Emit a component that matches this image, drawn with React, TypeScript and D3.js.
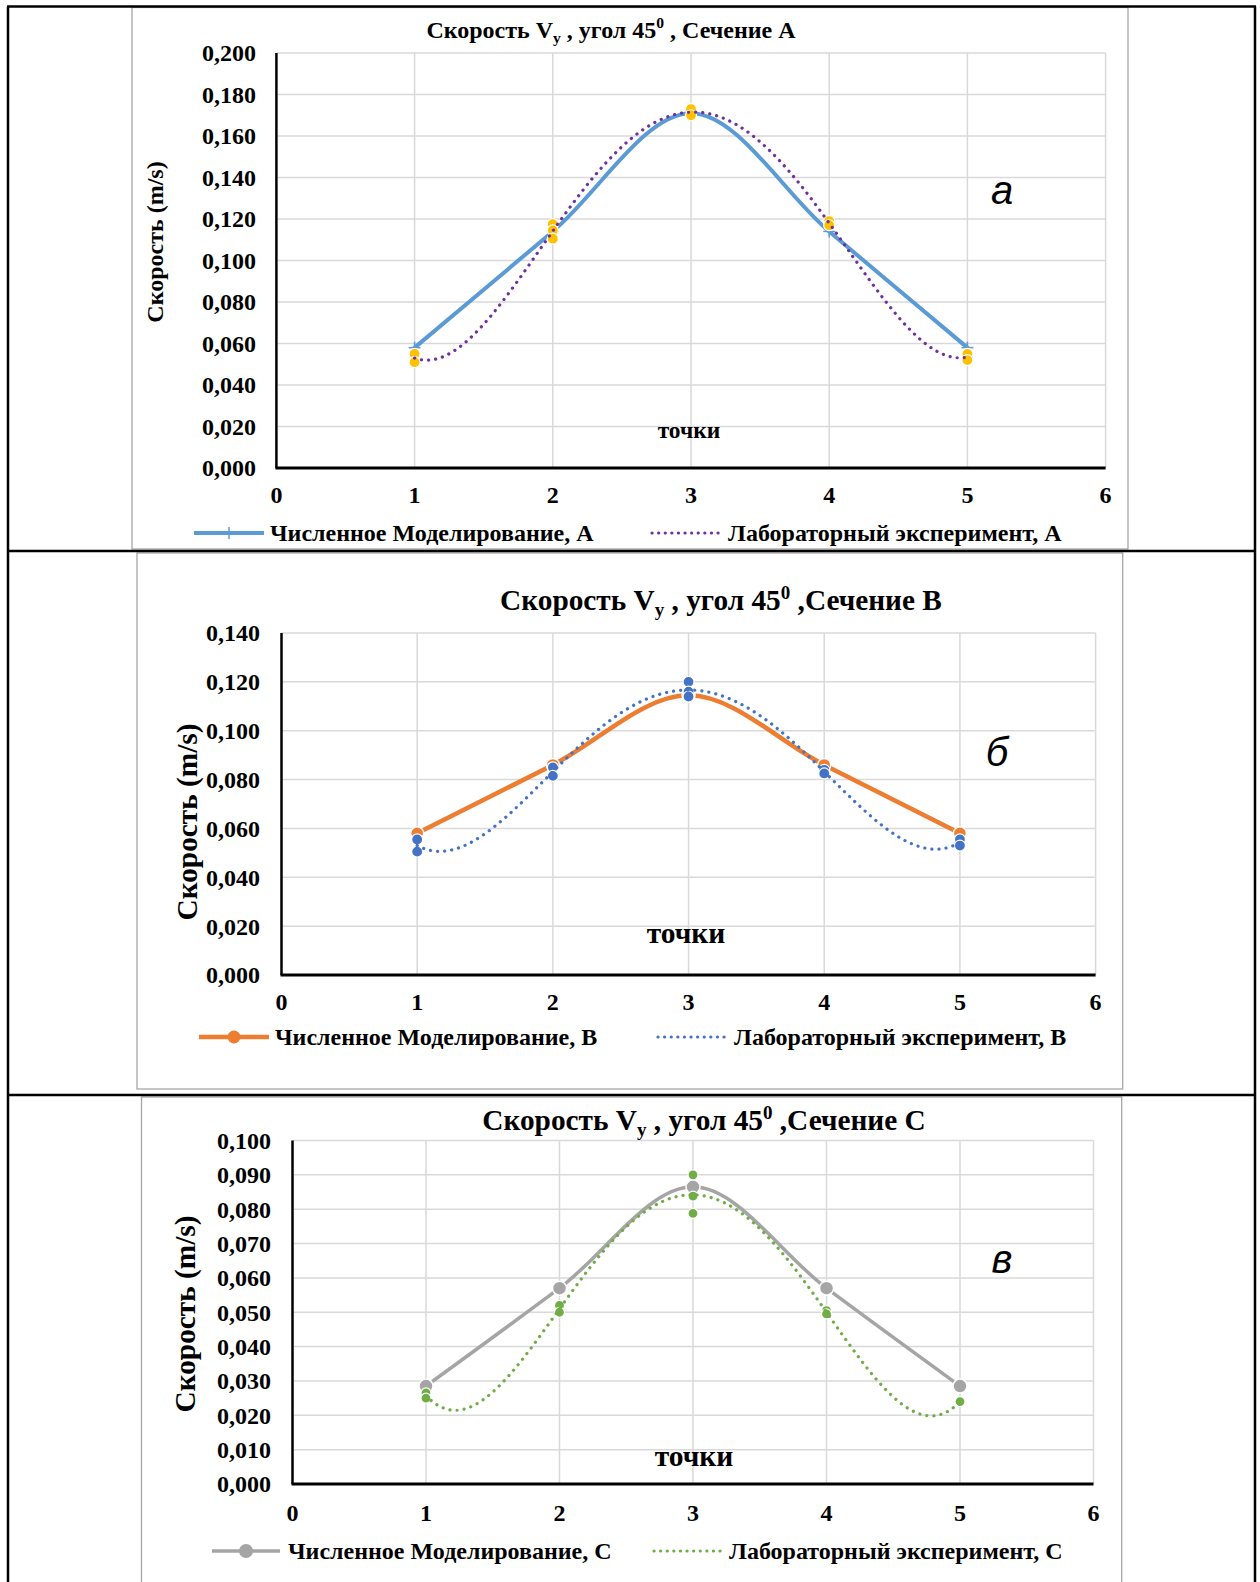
import React from "react";
import * as d3 from "d3";

// ---------- DATA ----------
const xTicks = [0, 1, 2, 3, 4, 5, 6];
const pointX = [1, 2, 3, 4, 5];

const yTicksA = [0, 0.02, 0.04, 0.06, 0.08, 0.1, 0.12, 0.14, 0.16, 0.18, 0.2];
const yTicksB = [0, 0.02, 0.04, 0.06, 0.08, 0.1, 0.12, 0.14];
const yTicksC = [0, 0.01, 0.02, 0.03, 0.04, 0.05, 0.06, 0.07, 0.08, 0.09, 0.1];

// Section A
const numA = [0.058, 0.114, 0.171, 0.114, 0.058];
const expAx = [1, 1, 2, 2, 2, 3, 3, 4, 4, 5, 5];
const expAy = [0.055, 0.051, 0.1175, 0.1145, 0.1105, 0.173, 0.170, 0.119, 0.117, 0.055, 0.052];

// Section B
const numB = [0.058, 0.086, 0.1145, 0.086, 0.058];
const expBx = [1, 1, 2, 2, 3, 3, 3, 4, 4, 5, 5];
const expBy = [0.0555, 0.0505, 0.085, 0.0815, 0.12, 0.116, 0.114, 0.084, 0.0825, 0.0555, 0.053];

// Section C
const numC = [0.0285, 0.057, 0.0865, 0.057, 0.0285];
const expCx = [1, 1, 2, 2, 3, 3, 3, 4, 4, 5];
const expCy = [0.0265, 0.025, 0.052, 0.050, 0.09, 0.0838, 0.0788, 0.0505, 0.0495, 0.024];

const titleBase = "Скорость V";
const yTitle = "Скорость (m/s)";
const xTitle = "точки";
const legendNum = ["Численное Моделирование, А", "Численное Моделирование, В", "Численное Моделирование, С"];
const legendExp = ["Лабораторный эксперимент, А", "Лабораторный эксперимент, В", "Лабораторный эксперимент, С"];
const sectionSuffix = [" , Сечение А", " ,Сечение В", " ,Сечение С"];
const letters = ["а", "б", "в"];

// ---------- HELPERS ----------
const fmt = (v: number) => d3.format(".3f")(v).replace(".", ",");

function polyFit(xs: number[], ys: number[], deg: number): number[] {
  const n = deg + 1;
  const M: number[][] = [];
  for (let i = 0; i < n; i++) {
    const row: number[] = [];
    for (let j = 0; j < n; j++) row.push(d3.sum(xs, (x) => Math.pow(x, i + j)));
    row.push(d3.sum(xs.map((x, k) => Math.pow(x, i) * ys[k])));
    M.push(row);
  }
  for (let c = 0; c < n; c++) {
    let p = c;
    for (let r = c + 1; r < n; r++) if (Math.abs(M[r][c]) > Math.abs(M[p][c])) p = r;
    [M[c], M[p]] = [M[p], M[c]];
    for (let r = 0; r < n; r++) {
      if (r === c) continue;
      const f = M[r][c] / M[c][c];
      for (let k = c; k <= n; k++) M[r][k] -= f * M[c][k];
    }
  }
  return M.map((row, i) => row[n] / row[i]);
}
const polyEval = (coef: number[], x: number) => coef.reduce((s, c, i) => s + c * Math.pow(x, i), 0);

const SERIF = "'Liberation Serif', 'Times New Roman', serif";

type Layout = {
  frame: [number, number, number, number];
  x0: number; x6: number; yTop: number; yBot: number;
  yMax: number; yTicks: number[];
  tickFs: number; tickRight: number; xLabelBase: number;
  titleCx: number; titleBy: number; titleFs: number;
  yTitleX: number; yTitleY: number; yTitleFs: number;
  ptsX: number; ptsY: number; ptsFs: number;
  letterX: number; letterY: number;
  legY: number; leg1: [number, number, number]; leg2: [number, number, number]; legFs: number;
  numColor: string; numWidth: number; numMarker: "plus" | "circle"; numR: number;
  expColor: string; trendColor: string; expR: number;
  num: number[]; ex: number[]; ey: number[]; idx: number;
};

function Chart({ L }: { L: Layout }) {
  const x = d3.scaleLinear().domain([0, 6]).range([L.x0, L.x6]);
  const y = d3.scaleLinear().domain([0, L.yMax]).range([L.yBot, L.yTop]);
  const numLine = d3.line<number>().x((_, i) => x(pointX[i])).y((d) => y(d)).curve(d3.curveCardinal.tension(0));
  const coef = polyFit(L.ex, L.ey, 4);
  const xsFit = d3.range(1, 5.0001, 0.02);
  const fitLine = d3.line<number>().x((d) => x(d)).y((d) => y(polyEval(coef, d)));
  const dots = "0.1 7";
  const fs = L.titleFs;
  const numPath = (
    <path d={numLine(L.num) || ""} fill="none" stroke={L.numColor} strokeWidth={L.numWidth} strokeLinecap="round" />
  );
  const numMarks = L.num.map((v, i) =>
    L.numMarker === "plus" ? (
      <g key={"nm" + i} stroke={L.numColor} strokeWidth={1.5}>
        <line x1={x(pointX[i]) - 6} x2={x(pointX[i]) + 6} y1={y(v)} y2={y(v)} />
        <line x1={x(pointX[i])} x2={x(pointX[i])} y1={y(v) - 6} y2={y(v) + 6} />
      </g>
    ) : (
      <circle key={"nm" + i} cx={x(pointX[i])} cy={y(v)} r={L.numR} fill={L.numColor} stroke="#fff" strokeWidth={1.5} />
    )
  );
  const expMarks = L.ex.map((xv, i) => (
    <circle key={"em" + i} cx={x(xv)} cy={y(L.ey[i])} r={L.expR} fill={L.expColor} stroke="#fff" strokeWidth={1.2} />
  ));
  const fitPath = (
    <path d={fitLine(xsFit) || ""} fill="none" stroke={L.trendColor} strokeWidth={3.2} strokeDasharray={dots} strokeLinecap="round" />
  );
  return (
    <g>
      <rect x={L.frame[0]} y={L.frame[1]} width={L.frame[2]} height={L.frame[3]} fill="#fff" stroke="#a6a6a6" strokeWidth={1.3} />
      {/* grid */}
      {L.yTicks.filter((t) => t > 0).map((t) => (
        <line key={"gy" + t} x1={x(0)} x2={x(6)} y1={y(t)} y2={y(t)} stroke="#d9d9d9" strokeWidth={1.5} />
      ))}
      {xTicks.filter((t) => t > 0).map((t) => (
        <line key={"gx" + t} x1={x(t)} x2={x(t)} y1={y(0)} y2={y(L.yMax)} stroke="#d9d9d9" strokeWidth={1.5} />
      ))}
      {/* axes */}
      <line x1={x(0)} x2={x(0)} y1={y(0)} y2={y(L.yMax)} stroke="#000" strokeWidth={2.5} />
      <line x1={x(0) - 1} x2={x(6)} y1={y(0)} y2={y(0)} stroke="#000" strokeWidth={3} />
      {/* tick labels */}
      <g fontFamily={SERIF} fontWeight="bold" fontSize={L.tickFs} fill="#000">
        {L.yTicks.map((t) => (
          <text key={"ty" + t} x={L.tickRight} y={y(t)} dy="0.35em" textAnchor="end">{fmt(t)}</text>
        ))}
        {xTicks.map((t) => (
          <text key={"tx" + t} x={x(t)} y={L.xLabelBase} textAnchor="middle">{t}</text>
        ))}
      </g>
      {/* series */}
      {numPath}
      {numMarks}
      {expMarks}
      {fitPath}
      {/* title */}
      <text x={L.titleCx} y={L.titleBy} textAnchor="middle" fontFamily={SERIF} fontWeight="bold" fontSize={fs} style={{ whiteSpace: "pre" }}>
        <tspan>{titleBase}</tspan>
        <tspan fontSize={fs * 0.65} dy={fs * 0.22}>y</tspan>
        <tspan dy={-fs * 0.22}>{" , угол 45"}</tspan>
        <tspan fontSize={fs * 0.65} dy={-fs * 0.38}>0</tspan>
        <tspan dy={fs * 0.38}>{sectionSuffix[L.idx]}</tspan>
      </text>
      {/* axis titles */}
      <text transform={`translate(${L.yTitleX},${L.yTitleY}) rotate(-90)`} textAnchor="middle" dy="0.35em" fontFamily={SERIF} fontWeight="bold" fontSize={L.yTitleFs}>{yTitle}</text>
      <text x={L.ptsX} y={L.ptsY} textAnchor="middle" fontFamily={SERIF} fontWeight="bold" fontSize={L.ptsFs}>{xTitle}</text>
      <text x={L.letterX} y={L.letterY} textAnchor="middle" fontFamily="'Liberation Sans', Arial, sans-serif" fontStyle="italic" fontSize={40}>{letters[L.idx]}</text>
      {/* legend */}
      <g fontFamily={SERIF} fontWeight="bold" fontSize={L.legFs}>
        <line x1={L.leg1[0]} x2={L.leg1[1]} y1={L.legY} y2={L.legY} stroke={L.numColor} strokeWidth={L.numWidth} />
        {L.numMarker === "plus" ? (
          <line x1={(L.leg1[0] + L.leg1[1]) / 2} x2={(L.leg1[0] + L.leg1[1]) / 2} y1={L.legY - 6} y2={L.legY + 6} stroke={L.numColor} strokeWidth={1.5} />
        ) : (
          <circle cx={(L.leg1[0] + L.leg1[1]) / 2} cy={L.legY} r={L.numR} fill={L.numColor} />
        )}
        <text x={L.leg1[2]} y={L.legY} dy="0.35em">{legendNum[L.idx]}</text>
        <line x1={L.leg2[0]} x2={L.leg2[1]} y1={L.legY} y2={L.legY} stroke={L.trendColor} strokeWidth={3.2} strokeDasharray="0.1 6.5" strokeLinecap="round" />
        <text x={L.leg2[2]} y={L.legY} dy="0.35em">{legendExp[L.idx]}</text>
      </g>
    </g>
  );
}

const layoutA: Layout = {
  frame: [132, 7.5, 996, 541.5],
  x0: 276.4, x6: 1105.6, yTop: 53, yBot: 468, yMax: 0.2, yTicks: yTicksA,
  tickFs: 24, tickRight: 256, xLabelBase: 503,
  titleCx: 611, titleBy: 37.5, titleFs: 24,
  yTitleX: 155, yTitleY: 242, yTitleFs: 24,
  ptsX: 689, ptsY: 438, ptsFs: 23.5,
  letterX: 1002, letterY: 204,
  legY: 533, leg1: [194, 264, 270], leg2: [652, 720, 728], legFs: 24,
  numColor: "#5b9bd5", numWidth: 4, numMarker: "plus", numR: 6,
  expColor: "#ffc000", trendColor: "#7030a0", expR: 5.5,
  num: numA, ex: expAx, ey: expAy, idx: 0,
};
const layoutB: Layout = {
  frame: [137, 553, 985.7, 536],
  x0: 281.5, x6: 1095.6, yTop: 633, yBot: 975, yMax: 0.14, yTicks: yTicksB,
  tickFs: 24, tickRight: 260, xLabelBase: 1010,
  titleCx: 721, titleBy: 610, titleFs: 29.3,
  yTitleX: 187, yTitleY: 822, yTitleFs: 29.3,
  ptsX: 686, ptsY: 943, ptsFs: 29.5,
  letterX: 997, letterY: 766,
  legY: 1037, leg1: [199, 269, 275], leg2: [658, 726, 734], legFs: 24,
  numColor: "#ed7d31", numWidth: 4.5, numMarker: "circle", numR: 6.5,
  expColor: "#4472c4", trendColor: "#4472c4", expR: 5.5,
  num: numB, ex: expBx, ey: expBy, idx: 1,
};
const layoutC: Layout = {
  frame: [141.5, 1097, 980.2, 520],
  x0: 292.5, x6: 1093.5, yTop: 1140.5, yBot: 1484, yMax: 0.1, yTicks: yTicksC,
  tickFs: 24, tickRight: 271, xLabelBase: 1521,
  titleCx: 704, titleBy: 1130, titleFs: 29.3,
  yTitleX: 185, yTitleY: 1314, yTitleFs: 29.3,
  ptsX: 694, ptsY: 1466, ptsFs: 29.5,
  letterX: 1002, letterY: 1273,
  legY: 1551, leg1: [212, 280, 288], leg2: [654, 722, 729], legFs: 24,
  numColor: "#a5a5a5", numWidth: 3.5, numMarker: "circle", numR: 7,
  expColor: "#70ad47", trendColor: "#70ad47", expR: 5,
  num: numC, ex: expCx, ey: expCy, idx: 2,
};

export default function App() {
  return (
    <svg width={1260} height={1582} style={{ position: "absolute", left: 0, top: 0, background: "#fff" }}>
      <rect x={0} y={0} width={1260} height={1582} fill="#fff" />
      <Chart L={layoutA} />
      <Chart L={layoutB} />
      <Chart L={layoutC} />
      {/* table borders */}
      <g stroke="#000" strokeWidth={2.5} fill="none">
        <line x1={8} x2={8} y1={6.5} y2={1582} />
        <line x1={1255} x2={1255} y1={6.5} y2={1582} />
        <line x1={7} x2={1256} y1={6.5} y2={6.5} />
        <line x1={7} x2={1256} y1={551} y2={551} />
        <line x1={7} x2={1256} y1={1095} y2={1095} />
      </g>
    </svg>
  );
}
